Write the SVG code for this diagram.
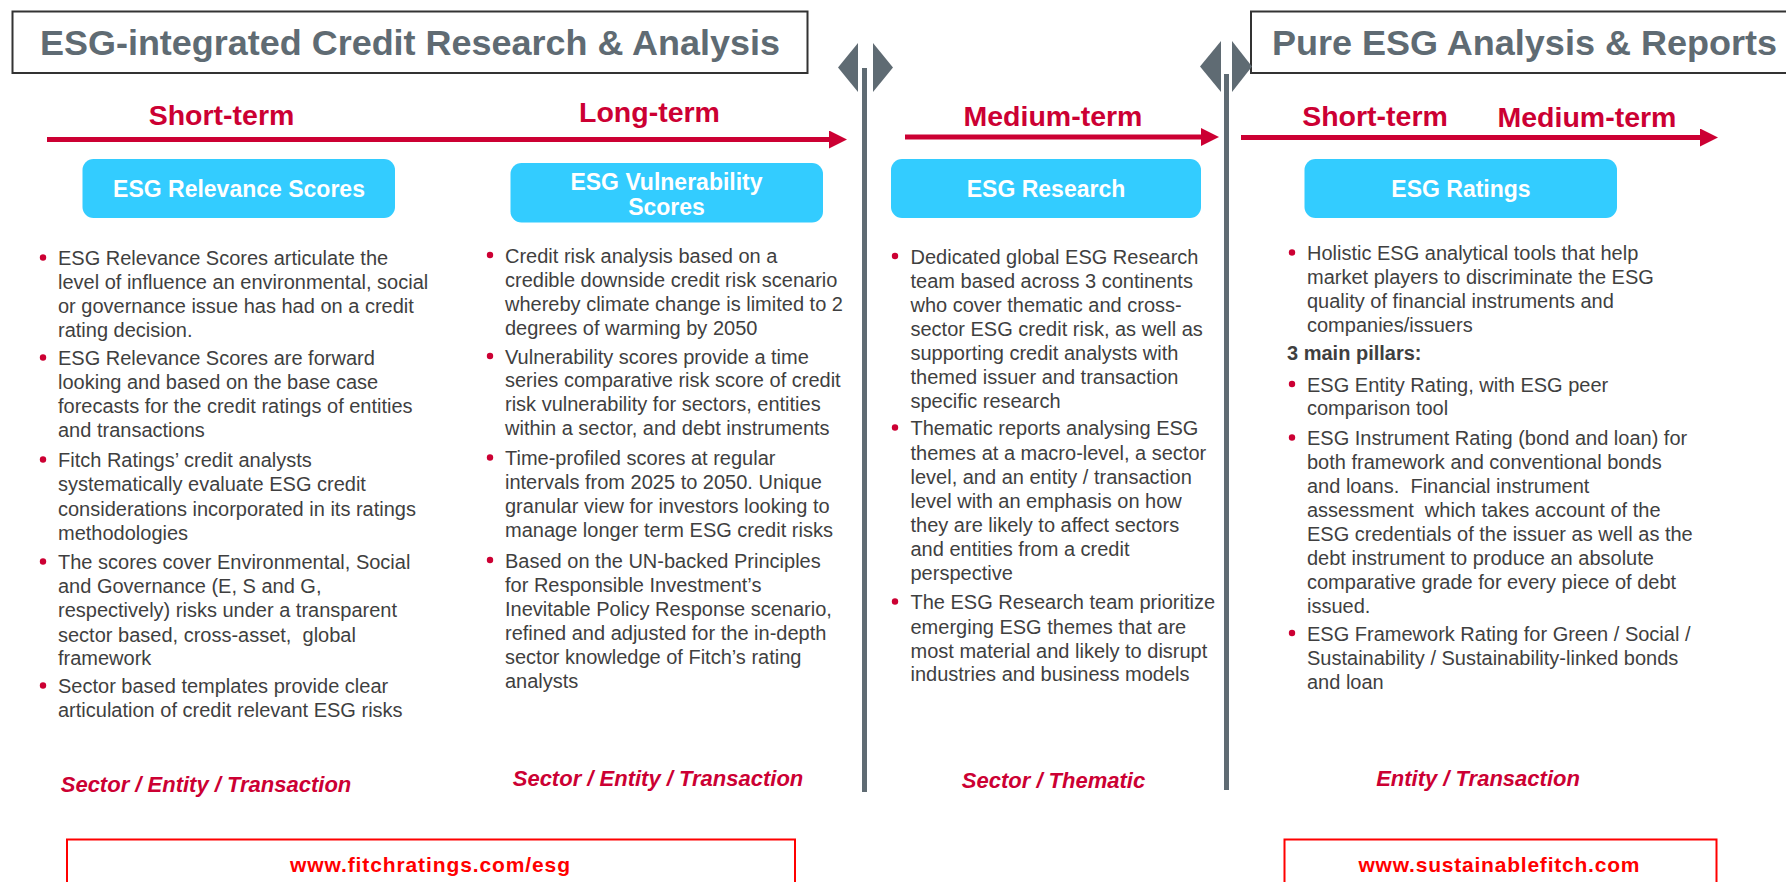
<svg xmlns="http://www.w3.org/2000/svg" width="1786" height="882" viewBox="0 0 1786 882">
<style>
.title{font-family:"Liberation Sans",Arial,sans-serif;font-weight:bold;font-size:35px;fill:#5f6b73;text-anchor:middle}
.tbox{fill:#fff;stroke:#333;stroke-width:2}
.div{fill:#5f6b73}
.term{font-family:"Liberation Sans",Arial,sans-serif;font-weight:bold;font-size:28.5px;fill:#cc0033;text-anchor:middle}
.box{fill:#33ccff}
.boxt{font-family:"Liberation Sans",Arial,sans-serif;font-weight:bold;font-size:23px;fill:#fff;text-anchor:middle}
.body{font-family:"Liberation Sans",Arial,sans-serif;font-size:20px;fill:#3f3f3f}
.bold{font-weight:bold}
.dot{fill:#cc0033}
.scope{font-family:"Liberation Sans",Arial,sans-serif;font-weight:bold;font-style:italic;font-size:22px;fill:#cc0033;text-anchor:middle}
.ubox{fill:none;stroke:#ff0000;stroke-width:2}
.url{font-family:"Liberation Sans",Arial,sans-serif;font-weight:bold;font-size:21px;fill:#ff0000;text-anchor:middle}
.arrow{stroke:#cc0033;stroke-width:5;fill:none}
</style>
<defs>
<marker id="ah" markerUnits="userSpaceOnUse" markerWidth="18" markerHeight="18" refX="0" refY="9" orient="auto">
<path d="M0,0 L18,9 L0,18 z" fill="#cc0033"/>
</marker>
</defs>
<rect width="1786" height="882" fill="#fff"/>

<g id="title-left">
<rect class="tbox" x="12.5" y="11.5" width="795" height="61.5"/>
<text class="title" x="410" y="55" textLength="740" lengthAdjust="spacingAndGlyphs">ESG-integrated Credit Research &amp; Analysis</text>
</g>
<g id="title-right">
<rect class="tbox" x="1251" y="11.5" width="545" height="61.5"/>
<text class="title" x="1524.5" y="55" textLength="505" lengthAdjust="spacingAndGlyphs">Pure ESG Analysis &amp; Reports</text>
</g>

<g id="divider-1">
<rect class="div" x="862" y="68" width="5" height="724"/>
<polygon class="div" points="858,43 838,67.5 858,92"/>
<polygon class="div" points="873,43 893,67.5 873,92"/>
</g>
<g id="divider-2">
<rect class="div" x="1224" y="74" width="5" height="716"/>
<polygon class="div" points="1221,41 1200,66.5 1221,92"/>
<polygon class="div" points="1232,41 1252,66.5 1232,92"/>
</g>

<g id="connectors">
<line class="arrow" x1="47" y1="139.5" x2="829" y2="139.5" marker-end="url(#ah)"/>
<line class="arrow" x1="905" y1="137" x2="1201" y2="137" marker-end="url(#ah)"/>
<line class="arrow" x1="1241" y1="137.5" x2="1700" y2="137.5" marker-end="url(#ah)"/>
</g>

<g id="terms">
<text class="term" x="221.5" y="125">Short-term</text>
<text class="term" x="649.5" y="122">Long-term</text>
<text class="term" x="1053" y="126">Medium-term</text>
<text class="term" x="1375" y="126">Short-term</text>
<text class="term" x="1587" y="127">Medium-term</text>
</g>

<g id="esg-relevance-scores">
<rect class="box" x="82.5" y="159" width="312.5" height="59" rx="11"/>
<text class="boxt" x="239" y="197">ESG Relevance Scores</text>
<circle class="dot" cx="43" cy="257.5" r="3.2"/>
<circle class="dot" cx="43" cy="357.5" r="3.2"/>
<circle class="dot" cx="43" cy="459.5" r="3.2"/>
<circle class="dot" cx="43" cy="561.5" r="3.2"/>
<circle class="dot" cx="43" cy="685.5" r="3.2"/>
<text class="body">
<tspan x="58" y="265">ESG Relevance Scores articulate the</tspan>
<tspan x="58" y="289">level of influence an environmental, social</tspan>
<tspan x="58" y="313">or governance issue has had on a credit</tspan>
<tspan x="58" y="337">rating decision.</tspan>
<tspan x="58" y="365">ESG Relevance Scores are forward</tspan>
<tspan x="58" y="389">looking and based on the base case</tspan>
<tspan x="58" y="413">forecasts for the credit ratings of entities</tspan>
<tspan x="58" y="437">and transactions</tspan>
<tspan x="58" y="467">Fitch Ratings’ credit analysts</tspan>
<tspan x="58" y="491">systematically evaluate ESG credit</tspan>
<tspan x="58" y="515.5">considerations incorporated in its ratings</tspan>
<tspan x="58" y="539.5">methodologies</tspan>
<tspan x="58" y="569">The scores cover Environmental, Social</tspan>
<tspan x="58" y="593">and Governance (E, S and G,</tspan>
<tspan x="58" y="617">respectively) risks under a transparent</tspan>
<tspan x="58" y="641.5">sector based, cross-asset,&#160; global</tspan>
<tspan x="58" y="665">framework</tspan>
<tspan x="58" y="693">Sector based templates provide clear</tspan>
<tspan x="58" y="717">articulation of credit relevant ESG risks</tspan>
</text>
<text class="scope" x="206" y="792">Sector / Entity / Transaction</text>
</g>

<g id="esg-vulnerability-scores">
<rect class="box" x="510.5" y="163" width="312.5" height="59.5" rx="11"/>
<text class="boxt"><tspan x="666.5" y="190">ESG Vulnerability</tspan><tspan x="666.5" y="215">Scores</tspan></text>
<circle class="dot" cx="490" cy="255" r="3.2"/>
<circle class="dot" cx="490" cy="356" r="3.2"/>
<circle class="dot" cx="490" cy="457.5" r="3.2"/>
<circle class="dot" cx="490" cy="560" r="3.2"/>
<text class="body">
<tspan x="505" y="262.5">Credit risk analysis based on a</tspan>
<tspan x="505" y="286.5">credible downside credit risk scenario</tspan>
<tspan x="505" y="311">whereby climate change is limited to 2</tspan>
<tspan x="505" y="335">degrees of warming by 2050</tspan>
<tspan x="505" y="363.5">Vulnerability scores provide a time</tspan>
<tspan x="505" y="387">series comparative risk score of credit</tspan>
<tspan x="505" y="411">risk vulnerability for sectors, entities</tspan>
<tspan x="505" y="435">within a sector, and debt instruments</tspan>
<tspan x="505" y="465">Time-profiled scores at regular</tspan>
<tspan x="505" y="488.5">intervals from 2025 to 2050. Unique</tspan>
<tspan x="505" y="512.5">granular view for investors looking to</tspan>
<tspan x="505" y="536.5">manage longer term ESG credit risks</tspan>
<tspan x="505" y="567.5">Based on the UN-backed Principles</tspan>
<tspan x="505" y="591.5">for Responsible Investment’s</tspan>
<tspan x="505" y="616">Inevitable Policy Response scenario,</tspan>
<tspan x="505" y="640">refined and adjusted for the in-depth</tspan>
<tspan x="505" y="663.5">sector knowledge of Fitch’s rating</tspan>
<tspan x="505" y="687.5">analysts</tspan>
</text>
<text class="scope" x="658" y="786">Sector / Entity / Transaction</text>
</g>

<g id="esg-research">
<rect class="box" x="891" y="159" width="310" height="59" rx="11"/>
<text class="boxt" x="1046" y="197">ESG Research</text>
<circle class="dot" cx="895" cy="256" r="3.2"/>
<circle class="dot" cx="895" cy="427.5" r="3.2"/>
<circle class="dot" cx="895" cy="601.5" r="3.2"/>
<text class="body">
<tspan x="910.5" y="263.5">Dedicated global ESG Research</tspan>
<tspan x="910.5" y="287.5">team based across 3 continents</tspan>
<tspan x="910.5" y="311.5">who cover thematic and cross-</tspan>
<tspan x="910.5" y="336">sector ESG credit risk, as well as</tspan>
<tspan x="910.5" y="359.5">supporting credit analysts with</tspan>
<tspan x="910.5" y="384">themed issuer and transaction</tspan>
<tspan x="910.5" y="407.5">specific research</tspan>
<tspan x="910.5" y="435">Thematic reports analysing ESG</tspan>
<tspan x="910.5" y="459.5">themes at a macro-level, a sector</tspan>
<tspan x="910.5" y="483.5">level, and an entity / transaction</tspan>
<tspan x="910.5" y="507.5">level with an emphasis on how</tspan>
<tspan x="910.5" y="531.5">they are likely to affect sectors</tspan>
<tspan x="910.5" y="555.5">and entities from a credit</tspan>
<tspan x="910.5" y="579.5">perspective</tspan>
<tspan x="910.5" y="609">The ESG Research team prioritize</tspan>
<tspan x="910.5" y="633.5">emerging ESG themes that are</tspan>
<tspan x="910.5" y="657.5">most material and likely to disrupt</tspan>
<tspan x="910.5" y="681">industries and business models</tspan>
</text>
<text class="scope" x="1053.5" y="788">Sector / Thematic</text>
</g>

<g id="esg-ratings">
<rect class="box" x="1304.5" y="159" width="312.5" height="59" rx="11"/>
<text class="boxt" x="1461" y="197">ESG Ratings</text>
<circle class="dot" cx="1292" cy="252.5" r="3.2"/>
<circle class="dot" cx="1292" cy="384" r="3.2"/>
<circle class="dot" cx="1292" cy="437.5" r="3.2"/>
<circle class="dot" cx="1292" cy="633" r="3.2"/>
<text class="body">
<tspan x="1307" y="260">Holistic ESG analytical tools that help</tspan>
<tspan x="1307" y="284">market players to discriminate the ESG</tspan>
<tspan x="1307" y="307.5">quality of financial instruments and</tspan>
<tspan x="1307" y="331.5">companies/issuers</tspan>
<tspan class="bold" x="1287" y="360">3 main pillars:</tspan>
<tspan x="1307" y="391.5">ESG Entity Rating, with ESG peer</tspan>
<tspan x="1307" y="415">comparison tool</tspan>
<tspan x="1307" y="445">ESG Instrument Rating (bond and loan) for</tspan>
<tspan x="1307" y="469">both framework and conventional bonds</tspan>
<tspan x="1307" y="492.5">and loans.&#160; Financial instrument</tspan>
<tspan x="1307" y="516.5">assessment&#160; which takes account of the</tspan>
<tspan x="1307" y="541">ESG credentials of the issuer as well as the</tspan>
<tspan x="1307" y="565">debt instrument to produce an absolute</tspan>
<tspan x="1307" y="589">comparative grade for every piece of debt</tspan>
<tspan x="1307" y="612.5">issued.</tspan>
<tspan x="1307" y="640.5">ESG Framework Rating for Green / Social /</tspan>
<tspan x="1307" y="665">Sustainability / Sustainability-linked bonds</tspan>
<tspan x="1307" y="689">and loan</tspan>
</text>
<text class="scope" x="1478" y="786">Entity / Transaction</text>
</g>

<g id="url-left">
<rect class="ubox" x="67" y="839.5" width="728" height="60"/>
<text class="url" x="430" y="871.5" textLength="280" lengthAdjust="spacing">www.fitchratings.com/esg</text>
</g>
<g id="url-right">
<rect class="ubox" x="1284.5" y="839.5" width="432" height="60"/>
<text class="url" x="1499" y="871.5" textLength="281" lengthAdjust="spacing">www.sustainablefitch.com</text>
</g>
</svg>
